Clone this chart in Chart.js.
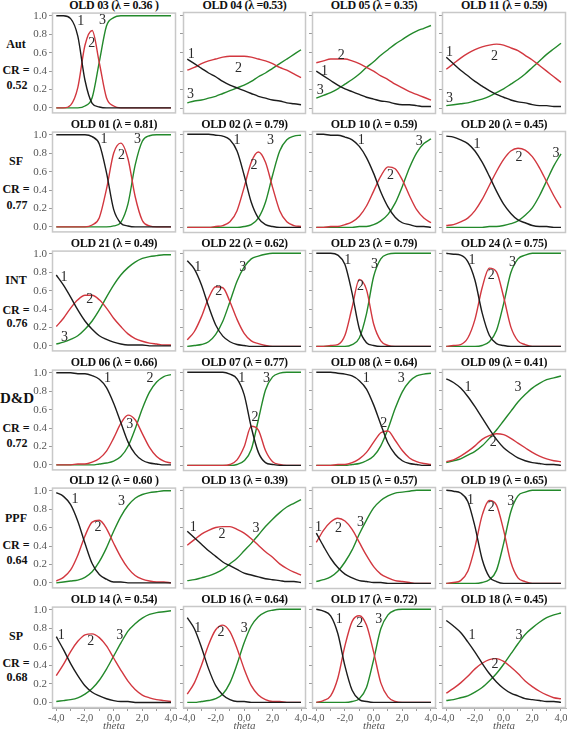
<!DOCTYPE html>
<html>
<head>
<meta charset="utf-8">
<script src="https://cdn.jsdelivr.net/npm/chart.js@4.4.1/dist/chart.umd.min.js"></script>
<style>
  body { margin: 0; width: 567px; height: 733px; overflow: hidden; background: #fff; position: relative; font-family: "Liberation Serif", serif; }
  .cell { position: absolute; }
  .ttl { position: absolute; text-align: center; font-weight: bold; font-size: 12px; line-height: 14px; letter-spacing: -0.3px; color: #111; white-space: nowrap; }
  .rl { position: absolute; width: 44px; margin-left: -22px; text-align: center; font-weight: bold; font-size: 12px; line-height: 14px; color: #111; white-space: nowrap; }
</style>
</head>
<body>
<script>
// theta grid shared by every panel
const theta = [-4, -3.5, -3, -2.5, -2, -1.5, -1, -0.5, 0, 0.5, 1, 1.5, 2, 2.5, 3, 3.5, 4];
const yTickValues = [0, 0.2, 0.4, 0.6, 0.8, 1.0];
const yTickLabels = ['0.0', '0.2', '0.4', '0.6', '0.8', '1.0'];
const xTickValues = [-4, -3, -2, -1, 0, 1, 2, 3, 4];
const xTickLabels = ['-4,0', '', '-2,0', '', '0,0', '', '2,0', '', '4,0'];

const scaleNames = ['Aut', 'SF', 'INT', 'D&D', 'PPF', 'SP'];
const crValues = ['0.52', '0.77', '0.76', '0.72', '0.64', '0.68'];
const titles = [
  'OLD 03 (λ = 0.36 )', 'OLD 04 (λ =0.53)', 'OLD 05 (λ = 0.35)', 'OLD 11 (λ = 0.59)',
  'OLD 01 (λ = 0.81)', 'OLD 02 (λ = 0.79)', 'OLD 10 (λ = 0.59)', 'OLD 20 (λ = 0.45)',
  'OLD 21 (λ = 0.49)', 'OLD 22 (λ = 0.62)', 'OLD 23 (λ = 0.79)', 'OLD 24 (λ = 0.75)',
  'OLD 06 (λ = 0.66)', 'OLD 07 (λ = 0.77)', 'OLD 08 (λ = 0.64)', 'OLD 09 (λ = 0.41)',
  'OLD 12 (λ = 0.60 )', 'OLD 13 (λ = 0.39)', 'OLD 15 (λ = 0.57)', 'OLD 19 (λ = 0.65)',
  'OLD 14 (λ = 0.54)', 'OLD 16 (λ = 0.64)', 'OLD 17 (λ = 0.72)', 'OLD 18 (λ = 0.45)'
];

// category response curves (cat 1 / 2 / 3)
const old03_1 = [1.00, 1.00, 0.97, 0.78, 0.30, 0.05, 0.01, 0, 0, 0, 0, 0, 0, 0, 0, 0, 0];
const old03_2 = [0, 0, 0.03, 0.22, 0.68, 0.84, 0.49, 0.11, 0.02, 0, 0, 0, 0, 0, 0, 0, 0];
const old03_3 = [0, 0, 0, 0, 0.02, 0.11, 0.50, 0.89, 0.98, 1.00, 1, 1, 1, 1, 1, 1, 1];
const old04_1 = [0.53, 0.48, 0.43, 0.38, 0.34, 0.29, 0.25, 0.22, 0.19, 0.16, 0.13, 0.11, 0.09, 0.08, 0.06, 0.05, 0.04];
const old04_2 = [0.41, 0.44, 0.48, 0.51, 0.53, 0.55, 0.56, 0.56, 0.56, 0.55, 0.53, 0.51, 0.48, 0.44, 0.41, 0.37, 0.33];
const old04_3 = [0.06, 0.08, 0.09, 0.11, 0.13, 0.16, 0.19, 0.22, 0.25, 0.29, 0.34, 0.38, 0.43, 0.48, 0.53, 0.58, 0.63];
const old05_1 = [0.40, 0.35, 0.30, 0.25, 0.21, 0.18, 0.15, 0.12, 0.10, 0.08, 0.07, 0.05, 0.04, 0.04, 0.03, 0.02, 0.02];
const old05_2 = [0.49, 0.51, 0.53, 0.53, 0.53, 0.51, 0.48, 0.44, 0.40, 0.35, 0.31, 0.26, 0.22, 0.18, 0.15, 0.12, 0.09];
const old05_3 = [0.11, 0.14, 0.17, 0.21, 0.26, 0.31, 0.37, 0.44, 0.50, 0.57, 0.63, 0.69, 0.74, 0.79, 0.83, 0.86, 0.89];
const old11_1 = [0.55, 0.48, 0.41, 0.35, 0.29, 0.24, 0.19, 0.15, 0.12, 0.09, 0.07, 0.06, 0.04, 0.03, 0.03, 0.02, 0.02];
const old11_2 = [0.42, 0.48, 0.54, 0.59, 0.63, 0.66, 0.68, 0.69, 0.68, 0.65, 0.62, 0.57, 0.52, 0.46, 0.40, 0.34, 0.28];
const old11_3 = [0.03, 0.04, 0.05, 0.06, 0.08, 0.10, 0.13, 0.17, 0.21, 0.26, 0.31, 0.37, 0.44, 0.51, 0.58, 0.64, 0.70];

const old01_1 = [1, 1, 1, 1.00, 1.00, 0.98, 0.90, 0.59, 0.19, 0.04, 0.01, 0, 0, 0, 0, 0, 0];
const old01_2 = [0, 0, 0, 0, 0, 0.02, 0.10, 0.41, 0.80, 0.91, 0.74, 0.33, 0.07, 0.01, 0, 0, 0];
const old01_3 = [0, 0, 0, 0, 0, 0, 0, 0, 0.01, 0.05, 0.25, 0.67, 0.93, 0.99, 1, 1, 1];
const old02_1 = [1, 1, 1, 1.00, 0.99, 0.98, 0.94, 0.82, 0.56, 0.27, 0.10, 0.03, 0.01, 0, 0, 0, 0];
const old02_2 = [0, 0, 0, 0, 0.01, 0.02, 0.06, 0.18, 0.43, 0.70, 0.81, 0.70, 0.43, 0.18, 0.06, 0.02, 0.01];
const old02_3 = [0, 0, 0, 0, 0, 0, 0, 0, 0.01, 0.03, 0.10, 0.27, 0.56, 0.82, 0.94, 0.98, 0.99];
const old10_1 = [1.00, 1.00, 0.99, 0.99, 0.97, 0.94, 0.87, 0.75, 0.58, 0.38, 0.22, 0.11, 0.05, 0.03, 0.01, 0.01, 0];
const old10_2 = [0, 0, 0.01, 0.01, 0.03, 0.06, 0.12, 0.23, 0.39, 0.55, 0.65, 0.63, 0.51, 0.34, 0.19, 0.10, 0.05];
const old10_3 = [0, 0, 0, 0, 0, 0, 0.01, 0.01, 0.03, 0.07, 0.14, 0.26, 0.44, 0.64, 0.80, 0.90, 0.95];
const old20_1 = [0.98, 0.97, 0.94, 0.90, 0.82, 0.70, 0.55, 0.39, 0.25, 0.15, 0.08, 0.05, 0.02, 0.01, 0.01, 0, 0];
const old20_2 = [0.02, 0.03, 0.06, 0.10, 0.18, 0.30, 0.45, 0.60, 0.73, 0.82, 0.85, 0.83, 0.76, 0.64, 0.49, 0.34, 0.21];
const old20_3 = [0, 0, 0, 0, 0, 0, 0.01, 0.01, 0.02, 0.04, 0.07, 0.13, 0.21, 0.34, 0.50, 0.66, 0.79];

const old21_1 = [0.77, 0.66, 0.53, 0.39, 0.27, 0.18, 0.11, 0.07, 0.04, 0.02, 0.01, 0.01, 0.01, 0, 0, 0, 0];
const old21_2 = [0.21, 0.30, 0.41, 0.50, 0.55, 0.55, 0.50, 0.41, 0.30, 0.21, 0.13, 0.08, 0.05, 0.03, 0.02, 0.01, 0.01];
const old21_3 = [0.02, 0.04, 0.07, 0.11, 0.18, 0.27, 0.39, 0.53, 0.66, 0.77, 0.85, 0.91, 0.95, 0.97, 0.98, 0.99, 0.99];
const old22_1 = [0.92, 0.83, 0.66, 0.43, 0.23, 0.11, 0.05, 0.02, 0.01, 0, 0, 0, 0, 0, 0, 0, 0];
const old22_2 = [0.07, 0.16, 0.32, 0.52, 0.64, 0.63, 0.48, 0.29, 0.14, 0.06, 0.03, 0.01, 0, 0, 0, 0, 0];
const old22_3 = [0, 0.01, 0.02, 0.05, 0.13, 0.27, 0.48, 0.70, 0.85, 0.94, 0.97, 0.99, 1.00, 1, 1, 1, 1];
const old23_1 = [1, 1, 1.00, 0.98, 0.88, 0.57, 0.19, 0.04, 0.01, 0, 0, 0, 0, 0, 0, 0, 0];
const old23_2 = [0, 0, 0.01, 0.02, 0.12, 0.42, 0.72, 0.61, 0.24, 0.06, 0.01, 0, 0, 0, 0, 0, 0];
const old23_3 = [0, 0, 0, 0, 0, 0.02, 0.09, 0.35, 0.75, 0.94, 0.99, 1, 1, 1, 1, 1, 1];
const old24_1 = [1.00, 0.99, 0.98, 0.91, 0.71, 0.36, 0.12, 0.03, 0.01, 0, 0, 0, 0, 0, 0, 0, 0];
const old24_2 = [0, 0.01, 0.02, 0.09, 0.29, 0.63, 0.84, 0.80, 0.53, 0.21, 0.06, 0.02, 0, 0, 0, 0, 0];
const old24_3 = [0, 0, 0, 0, 0, 0.01, 0.05, 0.17, 0.46, 0.79, 0.94, 0.98, 1.00, 1, 1, 1, 1];

const old06_1 = [1, 1.00, 1.00, 0.99, 0.99, 0.97, 0.93, 0.84, 0.67, 0.46, 0.25, 0.12, 0.05, 0.02, 0.01, 0, 0];
const old06_2 = [0, 0, 0, 0.01, 0.01, 0.03, 0.07, 0.15, 0.29, 0.45, 0.54, 0.49, 0.34, 0.19, 0.09, 0.04, 0.02];
const old06_3 = [0, 0, 0, 0, 0, 0, 0.01, 0.02, 0.04, 0.09, 0.20, 0.39, 0.61, 0.79, 0.90, 0.96, 0.98];
const old07_1 = [1, 1, 1, 1, 1.00, 1.00, 0.98, 0.93, 0.76, 0.41, 0.14, 0.03, 0.01, 0, 0, 0, 0];
const old07_2 = [0, 0, 0, 0, 0, 0, 0.01, 0.06, 0.20, 0.42, 0.38, 0.16, 0.04, 0.01, 0, 0, 0];
const old07_3 = [0, 0, 0, 0, 0, 0, 0, 0.01, 0.05, 0.17, 0.49, 0.81, 0.95, 0.99, 1, 1, 1];
const old08_1 = [1, 1, 1.00, 0.99, 0.98, 0.96, 0.91, 0.82, 0.65, 0.44, 0.24, 0.12, 0.05, 0.02, 0.01, 0, 0];
const old08_2 = [0, 0, 0, 0.01, 0.01, 0.03, 0.07, 0.14, 0.25, 0.35, 0.37, 0.27, 0.16, 0.08, 0.04, 0.02, 0.01];
const old08_3 = [0, 0, 0, 0, 0, 0.01, 0.02, 0.05, 0.10, 0.21, 0.39, 0.61, 0.79, 0.90, 0.96, 0.98, 0.99];
const old09_1 = [0.93, 0.89, 0.83, 0.74, 0.63, 0.51, 0.39, 0.28, 0.19, 0.13, 0.08, 0.05, 0.03, 0.02, 0.01, 0.01, 0];
const old09_2 = [0.04, 0.06, 0.10, 0.15, 0.21, 0.28, 0.32, 0.34, 0.33, 0.29, 0.24, 0.19, 0.14, 0.10, 0.07, 0.05, 0.04];
const old09_3 = [0.03, 0.05, 0.07, 0.11, 0.15, 0.21, 0.29, 0.38, 0.48, 0.58, 0.68, 0.76, 0.83, 0.88, 0.92, 0.94, 0.96];

const old12_1 = [0.98, 0.94, 0.85, 0.67, 0.43, 0.21, 0.09, 0.04, 0.01, 0.01, 0, 0, 0, 0, 0, 0, 0];
const old12_2 = [0.02, 0.06, 0.14, 0.30, 0.51, 0.66, 0.68, 0.59, 0.43, 0.28, 0.16, 0.08, 0.04, 0.02, 0.01, 0.01, 0];
const old12_3 = [0, 0.01, 0.02, 0.03, 0.06, 0.12, 0.23, 0.38, 0.56, 0.72, 0.84, 0.92, 0.96, 0.98, 0.99, 1.00, 1.00];
const old13_1 = [0.56, 0.49, 0.42, 0.35, 0.29, 0.23, 0.19, 0.15, 0.11, 0.09, 0.07, 0.05, 0.04, 0.03, 0.02, 0.02, 0.01];
const old13_2 = [0.41, 0.47, 0.53, 0.57, 0.60, 0.61, 0.61, 0.58, 0.54, 0.48, 0.41, 0.34, 0.28, 0.21, 0.16, 0.12, 0.09];
const old13_3 = [0.03, 0.04, 0.06, 0.08, 0.11, 0.15, 0.21, 0.27, 0.35, 0.43, 0.52, 0.61, 0.69, 0.76, 0.82, 0.86, 0.90];
const old15_1 = [0.54, 0.40, 0.27, 0.17, 0.10, 0.06, 0.03, 0.02, 0.01, 0.01, 0, 0, 0, 0, 0, 0, 0];
const old15_2 = [0.44, 0.57, 0.66, 0.70, 0.67, 0.58, 0.44, 0.30, 0.18, 0.10, 0.06, 0.03, 0.02, 0.01, 0, 0, 0];
const old15_3 = [0.02, 0.04, 0.07, 0.13, 0.23, 0.36, 0.53, 0.68, 0.81, 0.89, 0.94, 0.97, 0.98, 0.99, 1.00, 1, 1];
const old19_1 = [1.00, 0.99, 0.97, 0.88, 0.61, 0.26, 0.07, 0.02, 0, 0, 0, 0, 0, 0, 0, 0, 0];
const old19_2 = [0, 0.01, 0.03, 0.13, 0.39, 0.73, 0.89, 0.84, 0.57, 0.23, 0.06, 0.02, 0, 0, 0, 0, 0];
const old19_3 = [0, 0, 0, 0, 0, 0.01, 0.04, 0.14, 0.43, 0.77, 0.94, 0.98, 1.00, 1, 1, 1, 1];

const old14_1 = [0.71, 0.57, 0.42, 0.29, 0.18, 0.11, 0.07, 0.04, 0.02, 0.01, 0.01, 0, 0, 0, 0, 0, 0];
const old14_2 = [0.29, 0.41, 0.55, 0.66, 0.73, 0.74, 0.70, 0.61, 0.48, 0.35, 0.23, 0.14, 0.08, 0.05, 0.03, 0.02, 0.01];
const old14_3 = [0.01, 0.02, 0.03, 0.05, 0.09, 0.15, 0.24, 0.36, 0.50, 0.64, 0.77, 0.85, 0.91, 0.95, 0.97, 0.98, 0.99];
const old16_1 = [0.91, 0.79, 0.59, 0.36, 0.18, 0.08, 0.03, 0.01, 0.01, 0, 0, 0, 0, 0, 0, 0, 0];
const old16_2 = [0.09, 0.21, 0.40, 0.62, 0.78, 0.83, 0.76, 0.58, 0.36, 0.18, 0.08, 0.03, 0.01, 0.01, 0, 0, 0];
const old16_3 = [0, 0, 0.01, 0.02, 0.04, 0.09, 0.21, 0.41, 0.64, 0.82, 0.92, 0.97, 0.99, 1.00, 1.00, 1, 1];
const old17_1 = [1.00, 0.98, 0.93, 0.74, 0.39, 0.13, 0.03, 0.01, 0, 0, 0, 0, 0, 0, 0, 0, 0];
const old17_2 = [0, 0.02, 0.07, 0.26, 0.61, 0.87, 0.93, 0.83, 0.54, 0.21, 0.06, 0.01, 0, 0, 0, 0, 0];
const old17_3 = [0, 0, 0, 0, 0, 0.01, 0.04, 0.16, 0.46, 0.79, 0.94, 0.99, 1.00, 1, 1, 1, 1];
const old18_1 = [0.88, 0.82, 0.75, 0.65, 0.54, 0.42, 0.31, 0.22, 0.15, 0.10, 0.07, 0.04, 0.03, 0.02, 0.01, 0.01, 0];
const old18_2 = [0.10, 0.15, 0.21, 0.28, 0.36, 0.42, 0.46, 0.47, 0.44, 0.38, 0.31, 0.23, 0.17, 0.12, 0.08, 0.05, 0.04];
const old18_3 = [0.02, 0.03, 0.05, 0.07, 0.11, 0.16, 0.23, 0.31, 0.41, 0.52, 0.63, 0.73, 0.80, 0.86, 0.91, 0.94, 0.96];

// panels in reading order (row by row)
const curves = [
  [old03_1, old03_2, old03_3], [old04_1, old04_2, old04_3], [old05_1, old05_2, old05_3], [old11_1, old11_2, old11_3],
  [old01_1, old01_2, old01_3], [old02_1, old02_2, old02_3], [old10_1, old10_2, old10_3], [old20_1, old20_2, old20_3],
  [old21_1, old21_2, old21_3], [old22_1, old22_2, old22_3], [old23_1, old23_2, old23_3], [old24_1, old24_2, old24_3],
  [old06_1, old06_2, old06_3], [old07_1, old07_2, old07_3], [old08_1, old08_2, old08_3], [old09_1, old09_2, old09_3],
  [old12_1, old12_2, old12_3], [old13_1, old13_2, old13_3], [old15_1, old15_2, old15_3], [old19_1, old19_2, old19_3],
  [old14_1, old14_2, old14_3], [old16_1, old16_2, old16_3], [old17_1, old17_2, old17_3], [old18_1, old18_2, old18_3]
];

// where the "1", "2", "3" tags sit, in theta / probability units
const curveTags = [
  [['1', -2.3, 0.94], ['2', -1.53, 0.70], ['3', -0.78, 0.95]],
  [['1', -3.72, 0.585], ['2', -0.4, 0.43], ['3', -3.77, 0.15]],
  [['1', -3.42, 0.40], ['2', -2.26, 0.57], ['3', -3.72, 0.195]],
  [['1', -3.77, 0.60], ['2', -0.63, 0.56], ['3', -3.77, 0.106]],
  [['1', -0.67, 0.947], ['2', 0.55, 0.78], ['3', 1.66, 0.95]],
  [['1', -0.51, 0.936], ['2', 0.70, 0.67], ['3', 1.86, 0.936]],
  [['1', -0.87, 0.936], ['2', 1.17, 0.56], ['3', 3.19, 0.92]],
  [['1', -1.85, 0.89], ['2', 1.08, 0.75], ['3', 3.65, 0.79]],
  [['1', -3.46, 0.74], ['2', -1.67, 0.51], ['3', -3.42, 0.09]],
  [['1', -3.26, 0.85], ['2', -1.79, 0.59], ['3', -0.09, 0.85]],
  [['1', -1.8, 0.92], ['2', -0.91, 0.64], ['3', 0.06, 0.88]],
  [['1', -2.2, 0.92], ['2', -0.87, 0.76], ['3', 0.61, 0.90]],
  [['1', -0.43, 0.94], ['2', 2.53, 0.94], ['3', 1.13, 0.44]],
  [['1', -0.16, 0.94], ['2', 0.77, 0.52], ['3', 1.58, 0.94]],
  [['1', -0.52, 0.93], ['2', 0.71, 0.45], ['3', 1.92, 0.94]],
  [['1', -2.48, 0.84], ['2', -0.73, 0.25], ['3', 1.0, 0.84]],
  [['1', -2.69, 0.91], ['2', -1.09, 0.60], ['3', 0.55, 0.89]],
  [['1', -3.58, 0.60], ['2', -1.56, 0.53], ['3', 0.84, 0.59]],
  [['1', -3.84, 0.60], ['2', -2.45, 0.59], ['3', -0.91, 0.66]],
  [['1', -2.32, 0.89], ['2', -0.87, 0.82], ['3', 0.49, 0.88]],
  [['1', -3.65, 0.72], ['2', -1.6, 0.66], ['3', 0.43, 0.72]],
  [['1', -3.26, 0.79], ['2', -1.63, 0.75], ['3', 0, 0.79]],
  [['1', -2.4, 0.89], ['2', -0.97, 0.85], ['3', 0.35, 0.89]],
  [['1', -2.2, 0.72], ['2', -0.6, 0.41], ['3', 1.08, 0.72]]
];

// layout
const lineColors = ['#1c1c1c', '#d2373f', '#23892b'];
const colBox = [[52, 124], [183, 123], [312, 124], [442, 124]];
const rowTop = [12, 131, 250, 369, 487, 606];
const BOX_H = 102;
const rowLabelY = [[44, 70, 85], [161, 189, 205], [280, 310, 323], [398, 428, 443], [518, 545, 560], [636, 663, 677]];
const serif = '"Liberation Serif", "Times New Roman", serif';

const framePlugin = {
  id: 'frame',
  beforeDatasetsDraw(chart) {
    const a = chart.chartArea, ctx = chart.ctx;
    ctx.save();
    ctx.strokeStyle = '#c8c8c8';
    ctx.lineWidth = 1.5;
    ctx.strokeRect(a.left + 0.5, a.top + 0.5, a.right - a.left - 1, a.bottom - a.top - 1);
    ctx.restore();
  }
};

const tagPlugin = {
  id: 'curveTags',
  afterDatasetsDraw(chart, args, opts) {
    const ctx = chart.ctx, x = chart.scales.x, y = chart.scales.y;
    ctx.save();
    ctx.font = '14px ' + serif;
    ctx.fillStyle = '#2a2a2a';
    ctx.textAlign = 'center';
    ctx.textBaseline = 'middle';
    (opts.items || []).forEach(function (t) {
      ctx.fillText(t[0], x.getPixelForValue(t[1]), y.getPixelForValue(t[2]));
    });
    ctx.restore();
  }
};

Chart.register(framePlugin, tagPlugin);

function addText(cls, text, left, top, extra) {
  const d = document.createElement('div');
  d.className = cls;
  d.textContent = text;
  d.style.left = left + 'px';
  d.style.top = top + 'px';
  if (extra) Object.assign(d.style, extra);
  document.body.appendChild(d);
}

function makePanel(r, c) {
  const idx = r * 4 + c;
  const left = colBox[c][0], w = colBox[c][1];
  const padL = c === 0 ? 32 : 12;
  const bottomRow = r === rowTop.length - 1;

  addText('ttl', titles[idx], left, rowTop[r] - 14, { width: w + 'px' });

  const wrap = document.createElement('div');
  wrap.className = 'cell';
  wrap.style.left = (left - padL) + 'px';
  wrap.style.top = (rowTop[r] - 8) + 'px';
  wrap.style.width = (padL + w + 4) + 'px';
  wrap.style.height = (8 + BOX_H + (bottomRow ? 25 : 8)) + 'px';
  const cv = document.createElement('canvas');
  wrap.appendChild(cv);
  document.body.appendChild(wrap);

  new Chart(cv, {
    type: 'line',
    data: {
      datasets: curves[idx].map(function (vals, k) {
        return {
          data: theta.map(function (t, i) { return { x: t, y: vals[i] }; }),
          borderColor: lineColors[k],
          borderWidth: 1.4,
          pointRadius: 0,
          fill: false,
          cubicInterpolationMode: 'monotone'
        };
      })
    },
    options: {
      responsive: true,
      maintainAspectRatio: false,
      animation: false,
      events: [],
      layout: { padding: { top: 8, right: 4, bottom: bottomRow ? 0 : 8, left: 0 } },
      plugins: {
        legend: { display: false },
        tooltip: { enabled: false },
        curveTags: { items: curveTags[idx] }
      },
      scales: {
        x: {
          type: 'linear',
          min: -4.3,
          max: 4.35,
          display: bottomRow,
          afterBuildTicks: function (s) { s.ticks = xTickValues.map(function (v) { return { value: v }; }); },
          afterFit: function (s) { if (bottomRow) s.height = 25; },
          grid: { display: true, drawOnChartArea: false, drawTicks: true, tickLength: 3, color: '#9a9a9a' },
          border: { display: true, color: '#b5b5b5' },
          ticks: {
            autoSkip: false, maxRotation: 0, minRotation: 0, padding: 1,
            color: '#555', font: { family: serif, size: 10.5 },
            callback: function (v, i) { return xTickLabels[i]; }
          },
          title: { display: true, text: 'theta', color: '#555', padding: 0, font: { family: serif, size: 11, style: 'italic' } }
        },
        y: {
          min: -0.06,
          max: 1.035,
          afterBuildTicks: function (s) { s.ticks = yTickValues.map(function (v) { return { value: v }; }); },
          afterFit: function (s) { s.width = padL; },
          grid: { display: true, drawOnChartArea: false, drawTicks: true, tickLength: 3, color: '#9a9a9a' },
          border: { display: false },
          ticks: {
            display: c === 0, padding: 2, color: '#555',
            font: { family: serif, size: 11 },
            callback: function (v, i) { return yTickLabels[i]; }
          }
        }
      }
    }
  });
}

for (let r = 0; r < rowTop.length; r++) {
  const ly = rowLabelY[r];
  addText('rl', scaleNames[r], 16, ly[0] - 7, r === 3 ? { fontSize: '15px', left: '17px' } : null);
  addText('rl', 'CR =', 16, ly[1] - 7);
  addText('rl', crValues[r], 17, ly[2] - 7);
  for (let c = 0; c < 4; c++) makePanel(r, c);
}
</script>
</body>
</html>
